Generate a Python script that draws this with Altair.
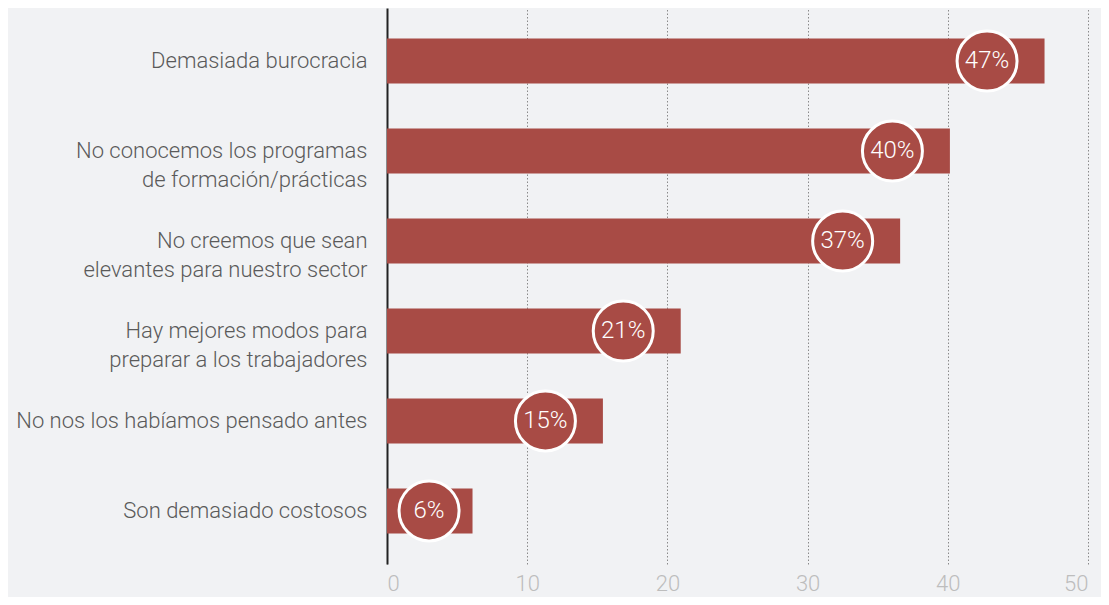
import altair as alt
import pandas as pd

categories = [
    "Demasiada burocracia",
    "No conocemos los programas|de formación/prácticas",
    "No creemos que sean|elevantes para nuestro sector",
    "Hay mejores modos para|preparar a los trabajadores",
    "No nos los habíamos pensado antes",
    "Son demasiado costosos",
]
values = [46.9, 40.15, 36.6, 20.95, 15.4, 6.1]
labels = ["47%", "40%", "37%", "21%", "15%", "6%"]

df = pd.DataFrame({"cat": categories, "value": values, "label": labels})

FONT = "Roboto"
BG = "#f1f2f4"
BAR = "#a84b45"

y_enc = alt.Y(
    "cat:N",
    sort=categories,
    scale=alt.Scale(paddingInner=0.5, paddingOuter=0.34),
    axis=alt.Axis(
        title=None,
        ticks=False,
        domain=True,
        domainColor="#222222",
        domainWidth=2,
        labelPadding=20,
        labelFont=FONT,
        labelFontSize=22,
        labelFontWeight=300,
        labelColor="#5a5a5a",
        labelLineHeight=29,
        labelLimit=400,
        labelExpr="split(datum.label, '|')",
    ),
)

x_scale = alt.Scale(domain=[0, 50], nice=False)

bars = alt.Chart(df).mark_bar(color=BAR).encode(
    x=alt.X(
        "value:Q",
        scale=x_scale,
        axis=alt.Axis(
            title=None,
            values=[0, 10, 20, 30, 40, 50],
            ticks=False,
            domain=False,
            grid=True,
            gridColor="#8a8a8a",
            gridDash=[1.5, 2],
            gridWidth=1,
            labelFont=FONT,
            labelFontSize=22,
            labelFontWeight=300,
            labelColor="#bdbdbd",
            labelPadding=9,
        ),
    ),
    y=y_enc,
)

circles = alt.Chart(df).transform_calculate(
    pos="max(datum.value - 4.1, 3)"
).mark_point(
    shape="circle", filled=True, size=3600, fill=BAR, stroke="white", strokeWidth=3, opacity=1
).encode(
    x=alt.X("pos:Q", scale=x_scale),
    y=alt.Y("cat:N", sort=categories),
)

texts = alt.Chart(df).transform_calculate(
    pos="max(datum.value - 4.1, 3)"
).mark_text(
    font=FONT, fontSize=24, fontWeight=300, color="white", baseline="middle", align="center"
).encode(
    x=alt.X("pos:Q", scale=x_scale),
    y=alt.Y("cat:N", sort=categories),
    text="label:N",
)

chart = (
    alt.layer(bars, circles, texts)
    .properties(
        width=701,
        height=556,
        background=BG,
        padding={"left": 379, "top": 0, "right": 13, "bottom": 33},
        autosize=alt.AutoSizeParams(type="none"),
    )
    .configure_view(stroke=None)
)

chart.save("out.html", embed_options={"renderer": "svg", "actions": False})
